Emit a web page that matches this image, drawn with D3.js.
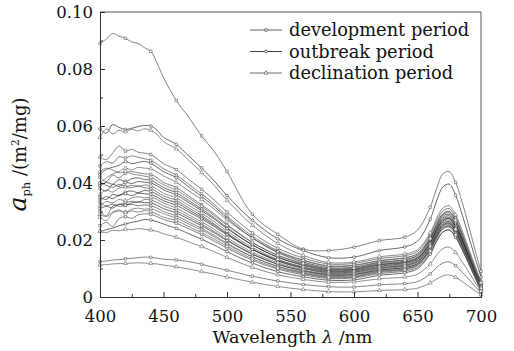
<!DOCTYPE html>
<html>
<head>
<meta charset="utf-8">
<script src="https://cdn.jsdelivr.net/npm/d3@7"></script>
<style>
  html, body { margin: 0; padding: 0; background: #fff; }
  svg { display: block; }
  text { font-family: "DejaVu Serif", "Liberation Serif", serif; fill: #111; }
</style>
</head>
<body>
<svg id="chart" width="514" height="351"></svg>
<script>
// Wavelength grid (nm) shared by every absorption spectrum
const wavelengths = [400,405,410,415,420,425,430,435,440,445,450,460,470,480,490,500,520,540,560,580,600,620,640,650,660,665,670,675,680,685,690,695,700];

// Phytoplankton absorption coefficient a_ph (m^2/mg), one row per station
const developmentSpectra = [
  [.0890,.0905,.0925,.0915,.0908,.0895,.0890,.0875,.0862,.0820,.0770,.0690,.0630,.0565,.0510,.0440,.0290,.0220,.0168,.0163,.0175,.0198,.0210,.0235,.0315,.0380,.0432,.0440,.0402,.0335,.0255,.0170,.0090],
  [.0490,.0482,.0505,.0530,.0512,.0518,.0508,.0505,.0500,.0485,.0468,.0447,.0412,.0378,.0340,.0298,.0225,.0171,.0137,.0116,.0118,.0135,.0145,.0160,.0218,.0266,.0302,.0310,.0278,.0225,.0164,.0103,.0045],
  [.0460,.0475,.0470,.0492,.0488,.0495,.0490,.0485,.0480,.0466,.0450,.0428,.0395,.0362,.0325,.0284,.0214,.0162,.0129,.0108,.0110,.0127,.0137,.0152,.0209,.0256,.0292,.0300,.0269,.0217,.0157,.0097,.0040],
  [.0420,.0405,.0428,.0418,.0435,.0440,.0436,.0432,.0430,.0418,.0402,.0384,.0354,.0324,.0291,.0255,.0192,.0146,.0117,.0098,.0100,.0117,.0126,.0141,.0196,.0242,.0278,.0285,.0254,.0203,.0145,.0086,.0030],
  [.0400,.0392,.0385,.0395,.0388,.0384,.0390,.0383,.0380,.0368,.0355,.0339,.0312,.0286,.0256,.0224,.0168,.0126,.0100,.0083,.0085,.0101,.0110,.0125,.0179,.0224,.0258,.0265,.0239,.0195,.0144,.0093,.0045],
  [.0300,.0285,.0318,.0325,.0330,.0336,.0332,.0342,.0340,.0332,.0320,.0303,.0280,.0256,.0230,.0201,.0151,.0115,.0091,.0076,.0078,.0094,.0103,.0117,.0170,.0214,.0248,.0255,.0227,.0181,.0129,.0076,.0025],
  [.0250,.0262,.0248,.0275,.0282,.0276,.0288,.0292,.0290,.0282,.0272,.0259,.0239,.0219,.0196,.0172,.0129,.0098,.0078,.0065,.0067,.0082,.0091,.0104,.0154,.0196,.0228,.0235,.0210,.0169,.0122,.0075,.0030],
  [.0124,.0126,.0130,.0131,.0134,.0136,.0138,.0140,.0139,.0136,.0133,.0130,.0124,.0115,.0104,.0094,.0073,.0056,.0044,.0036,.0035,.0043,.0047,.0054,.0081,.0103,.0119,.0123,.0110,.0088,.0064,.0039,.0015],
  [.0330,.0320,.0326,.0318,.0322,.0325,.0320,.0323,.0320,.0312,.0300,.0285,.0263,.0241,.0216,.0189,.0141,.0107,.0084,.0070,.0072,.0089,.0098,.0113,.0169,.0215,.0251,.0258,.0231,.0185,.0133,.0080,.0030]
];

const outbreakSpectra = [
  [.0590,.0575,.0605,.0595,.0588,.0592,.0598,.0602,.0600,.0585,.0560,.0536,.0494,.0453,.0407,.0356,.0269,.0204,.0163,.0138,.0140,.0163,.0176,.0196,.0273,.0337,.0386,.0396,.0357,.0292,.0217,.0142,.0070],
  [.0430,.0448,.0455,.0462,.0475,.0468,.0472,.0476,.0470,.0455,.0440,.0419,.0386,.0353,.0317,.0277,.0207,.0156,.0123,.0103,.0105,.0122,.0131,.0146,.0201,.0247,.0283,.0290,.0259,.0208,.0150,.0091,.0035],
  [.0390,.0402,.0396,.0412,.0405,.0415,.0418,.0412,.0410,.0398,.0384,.0366,.0338,.0309,.0278,.0243,.0183,.0139,.0111,.0093,.0095,.0112,.0121,.0136,.0191,.0237,.0273,.0280,.0251,.0203,.0148,.0093,.0040],
  [.0380,.0372,.0395,.0388,.0402,.0398,.0405,.0403,.0400,.0390,.0376,.0358,.0331,.0303,.0273,.0240,.0183,.0140,.0113,.0096,.0098,.0114,.0123,.0137,.0190,.0234,.0268,.0275,.0246,.0198,.0143,.0088,.0035],
  [.0350,.0342,.0360,.0355,.0368,.0372,.0366,.0374,.0370,.0360,.0346,.0331,.0305,.0280,.0252,.0221,.0167,.0127,.0102,.0086,.0088,.0103,.0112,.0126,.0177,.0220,.0253,.0260,.0232,.0186,.0134,.0081,.0030],
  [.0310,.0318,.0312,.0325,.0322,.0330,.0334,.0331,.0330,.0322,.0310,.0295,.0273,.0250,.0225,.0198,.0150,.0115,.0093,.0078,.0080,.0095,.0104,.0117,.0168,.0211,.0243,.0250,.0225,.0183,.0135,.0086,.0040],
  [.0340,.0352,.0345,.0358,.0362,.0356,.0364,.0362,.0360,.0350,.0338,.0322,.0298,.0274,.0247,.0218,.0167,.0130,.0105,.0090,.0092,.0108,.0118,.0132,.0187,.0233,.0268,.0275,.0247,.0200,.0146,.0092,.0040],
  [.0230,.0236,.0242,.0250,.0256,.0262,.0266,.0272,.0270,.0264,.0256,.0241,.0222,.0203,.0182,.0159,.0119,.0089,.0071,.0059,.0060,.0076,.0085,.0099,.0151,.0195,.0228,.0235,.0210,.0168,.0120,.0071,.0025]
];

const declinationSpectra = [
  [.0560,.0590,.0572,.0585,.0580,.0588,.0583,.0590,.0585,.0570,.0545,.0520,.0479,.0437,.0391,.0340,.0252,.0188,.0146,.0121,.0123,.0141,.0151,.0166,.0225,.0275,.0312,.0320,.0288,.0235,.0174,.0113,.0055],
  [.0400,.0418,.0432,.0440,.0452,.0446,.0455,.0452,.0450,.0438,.0425,.0403,.0372,.0342,.0308,.0271,.0207,.0159,.0129,.0110,.0112,.0128,.0138,.0152,.0207,.0253,.0288,.0295,.0266,.0217,.0160,.0104,.0050],
  [.0360,.0375,.0368,.0382,.0386,.0392,.0388,.0393,.0390,.0378,.0364,.0348,.0321,.0294,.0264,.0231,.0174,.0132,.0105,.0088,.0090,.0106,.0115,.0130,.0184,.0229,.0263,.0270,.0241,.0192,.0135,.0079,.0025],
  [.0320,.0335,.0330,.0342,.0338,.0348,.0352,.0348,.0350,.0342,.0330,.0312,.0288,.0264,.0237,.0208,.0157,.0120,.0095,.0080,.0082,.0098,.0108,.0122,.0177,.0223,.0258,.0265,.0237,.0191,.0139,.0086,.0035],
  [.0280,.0268,.0295,.0302,.0298,.0308,.0312,.0308,.0310,.0302,.0292,.0277,.0256,.0235,.0211,.0185,.0141,.0108,.0087,.0073,.0075,.0091,.0099,.0113,.0165,.0208,.0241,.0248,.0222,.0178,.0128,.0078,.0030],
  [.0290,.0282,.0298,.0305,.0296,.0302,.0298,.0303,.0300,.0290,.0280,.0268,.0247,.0226,.0203,.0178,.0134,.0102,.0082,.0068,.0070,.0086,.0095,.0109,.0161,.0205,.0238,.0245,.0218,.0173,.0121,.0070,.0020],
  [.0230,.0226,.0234,.0232,.0238,.0236,.0240,.0238,.0235,.0230,.0222,.0210,.0193,.0177,.0159,.0139,.0104,.0078,.0062,.0052,.0053,.0064,.0070,.0080,.0116,.0147,.0170,.0175,.0156,.0125,.0090,.0054,.0020],
  [.0112,.0114,.0116,.0117,.0118,.0119,.0120,.0119,.0118,.0116,.0112,.0106,.0098,.0089,.0080,.0070,.0052,.0037,.0026,.0019,.0018,.0023,.0026,.0031,.0049,.0063,.0074,.0077,.0069,.0055,.0039,.0023,.0008],
  [.0440,.0452,.0445,.0436,.0440,.0432,.0428,.0424,.0420,.0408,.0394,.0375,.0347,.0318,.0286,.0251,.0191,.0147,.0118,.0100,.0102,.0120,.0130,.0146,.0205,.0254,.0292,.0300,.0270,.0220,.0163,.0105,.0050]
];

const periodNames = ["development period", "outbreak period", "declination period"];
const xTickValues = [400, 450, 500, 550, 600, 650, 700];
const xMinorTicks = [425, 475, 525, 575, 625, 675];
const yTickValues = [0, 0.02, 0.04, 0.06, 0.08, 0.10];
const yTickLabels = ["0", "0.02", "0.04", "0.06", "0.08", "0.10"];
const yMinorTicks = [0.01, 0.03, 0.05, 0.07, 0.09];
// Markers are placed every 20 nm along each spectrum
const markerWavelengths = [400, 420, 440, 460, 480, 500, 520, 540, 560, 580, 600, 620, 640, 660, 680, 700];

const periods = [
  { name: periodNames[0], spectra: developmentSpectra, symbol: d3.symbolSquare, color: "#4d4d4d", size: 6 },
  { name: periodNames[1], spectra: outbreakSpectra, symbol: d3.symbolCircle, color: "#2a2a2a", size: 6 },
  { name: periodNames[2], spectra: declinationSpectra, symbol: d3.symbolTriangle, color: "#5c5c5c", size: 7 }
];

const FONT = "DejaVu Serif, Liberation Serif, serif";
const svg = d3.select("#chart");
const plot = { left: 100, right: 481, top: 12, bottom: 297 };

const x = d3.scaleLinear().domain([400, 700]).range([plot.left, plot.right]);
const y = d3.scaleLinear().domain([0, 0.10]).range([plot.bottom, plot.top]);

// Frame (top and right edges)
svg.append("path")
  .attr("d", `M${plot.left},${plot.top}H${plot.right}V${plot.bottom}`)
  .attr("fill", "none").attr("stroke", "#555").attr("stroke-width", 1);

// Spectra
const line = d3.line()
  .x((d, i) => x(wavelengths[i]))
  .y(d => y(d))
  .curve(d3.curveCatmullRom.alpha(0.5));

periods.forEach(p => {
  const g = svg.append("g");
  p.spectra.forEach(s => {
    g.append("path")
      .attr("d", line(s))
      .attr("fill", "none")
      .attr("stroke", p.color)
      .attr("stroke-width", 0.7);
    const pts = s.map((v, i) => [wavelengths[i], v]).filter(d => markerWavelengths.includes(d[0]));
    g.selectAll(null).data(pts).join("path")
      .attr("transform", d => `translate(${x(d[0])},${y(d[1])})`)
      .attr("d", d3.symbol().type(p.symbol).size(p.size))
      .attr("fill", "#fff")
      .attr("stroke", p.color)
      .attr("stroke-width", 0.55);
  });
});

// Axes with inward ticks
const xAxisMinor = d3.axisBottom(x).tickValues(xMinorTicks).tickSize(-3).tickFormat("");
const xAxis = d3.axisBottom(x).tickValues(xTickValues).tickSize(-5).tickPadding(13.3).tickFormat(d3.format("d"));
const yAxisMinor = d3.axisLeft(y).tickValues(yMinorTicks).tickSize(-3).tickFormat("");
const yAxis = d3.axisLeft(y).tickValues(yTickValues).tickSize(-5).tickPadding(7)
  .tickFormat((d, i) => yTickLabels[i]);

function styleAxis(g) {
  g.attr("font-family", FONT);
  g.select(".domain").attr("stroke", "#333");
  g.selectAll(".tick line").attr("stroke", "#333");
  g.selectAll(".tick text").attr("font-family", FONT).attr("font-size", 16.5).attr("fill", "#111");
}

svg.append("g").attr("transform", `translate(0,${plot.bottom})`).call(xAxisMinor).call(styleAxis);
svg.append("g").attr("transform", `translate(0,${plot.bottom})`).call(xAxis).call(styleAxis);
svg.append("g").attr("transform", `translate(${plot.left},0)`).call(yAxisMinor).call(styleAxis);
svg.append("g").attr("transform", `translate(${plot.left},0)`).call(yAxis).call(styleAxis);

// Axis titles
const xt = svg.append("text")
  .attr("x", (plot.left + plot.right) / 2 + 2).attr("y", 342.5)
  .attr("text-anchor", "middle").attr("font-size", 17.5);
xt.append("tspan").text("Wavelength ");
xt.append("tspan").attr("font-style", "italic").text("λ");
xt.append("tspan").text(" /nm");

const yt = svg.append("text")
  .attr("transform", `translate(26,${(plot.top + plot.bottom) / 2}) rotate(-90)`)
  .attr("text-anchor", "middle").attr("font-size", 18);
yt.append("tspan").attr("font-style", "italic").attr("font-size", 25).text("a");
yt.append("tspan").attr("font-size", 11.5).attr("dy", 4).text("ph");
yt.append("tspan").attr("dy", -4).text(" /(m");
yt.append("tspan").attr("font-size", 10.5).attr("dy", -7).text("2");
yt.append("tspan").attr("dy", 7).text("/mg)");

// Legend
const legend = svg.append("g");
periods.forEach((p, i) => {
  const cy = 30 + i * 21.5;
  legend.append("line")
    .attr("x1", 250).attr("x2", 282).attr("y1", cy).attr("y2", cy)
    .attr("stroke", p.color).attr("stroke-width", 0.9);
  legend.append("path")
    .attr("transform", `translate(266,${cy})`)
    .attr("d", d3.symbol().type(p.symbol).size(p.size))
    .attr("fill", "#fff").attr("stroke", p.color).attr("stroke-width", 0.7);
  legend.append("text")
    .attr("x", 289).attr("y", cy + 6)
    .attr("font-size", 17.8).text(p.name);
});
</script>
</body>
</html>
